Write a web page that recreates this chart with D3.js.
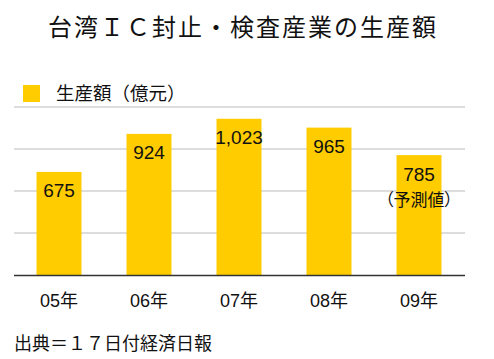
<!DOCTYPE html>
<html><head><meta charset="utf-8">
<script src="https://cdn.jsdelivr.net/npm/d3@7/dist/d3.min.js"></script>
<style>
body{margin:0;background:#fff;}
text{font-family:"Liberation Sans","Noto Sans CJK JP",sans-serif;}
.jp{font-family:"Noto Sans CJK JP",sans-serif;}
</style></head><body>
<svg id="c" width="494" height="359"></svg>
<script>
const categories = ["05年","06年","07年","08年","09年"];
const values = [675, 924, 1023, 965, 785];
const valueLabels = ["675","924","1,023","965","785"];
const notes = ["","","","","（予測値）"];
const yTicks = [0, 275, 550, 825, 1100];
const title = "台湾ＩＣ封止・検査産業の生産額";
const legendLabel = "生産額（億元）";
const source = "出典＝１７日付経済日報";

(function(){
const svg = d3.select("#c");
const pl = 14, pr = 464, pt = 107, pb = 275;
const x = d3.scaleBand().domain(categories).range([pl, pr]).paddingInner(0.5).paddingOuter(0.25);
const y = d3.scaleLinear().domain([0, 1100]).range([pb, pt]);

svg.append("text").attr("class","jp").attr("x",243).attr("y",36).attr("text-anchor","middle")
  .attr("font-size",24).attr("letter-spacing",2).attr("fill","#111").text(title);

svg.append("rect").attr("x",23).attr("y",85).attr("width",17).attr("height",17).attr("fill","#FFCC00");
svg.append("text").attr("class","jp").attr("x",56).attr("y",100).attr("font-size",18.5)
  .attr("fill","#111").text(legendLabel);

svg.append("g").selectAll("line").data(yTicks.slice(1)).join("line")
  .attr("x1",pl).attr("x2",pr+1).attr("y1",d=>y(d)).attr("y2",d=>y(d))
  .attr("stroke","#bbbbbb").attr("stroke-width",1);

svg.append("g").selectAll("rect").data(values).join("rect")
  .attr("x",(d,i)=>x(categories[i])).attr("width",x.bandwidth())
  .attr("y",d=>y(d)).attr("height",d=>y(0)-y(d)).attr("fill","#FFCC00");

svg.append("line").attr("x1",pl).attr("x2",pr+1).attr("y1",pb+0.5).attr("y2",pb+0.5)
  .attr("stroke","#333").attr("stroke-width",1.5);

svg.append("g").selectAll("text").data(values).join("text")
  .attr("x",(d,i)=>x(categories[i])+x.bandwidth()/2).attr("y",d=>y(d)+25.5)
  .attr("text-anchor","middle").attr("font-size",19).attr("fill","#111").text((d,i)=>valueLabels[i]);

svg.append("g").selectAll("text").data(values).join("text").attr("class","jp")
  .attr("x",(d,i)=>x(categories[i])+x.bandwidth()/2).attr("y",d=>y(d)+51)
  .attr("text-anchor","middle").attr("font-size",17).style("font-feature-settings","'palt'")
  .attr("fill","#111").text((d,i)=>notes[i]);

const xAxis = svg.append("g").attr("transform",`translate(0,${pb})`)
  .call(d3.axisBottom(x).tickSize(0).tickPadding(0));
xAxis.select(".domain").remove();
xAxis.selectAll("text").attr("y",31.5).attr("dy",null).attr("font-size",18)
  .attr("fill","#111").style("font-family","'Liberation Sans','Noto Sans CJK JP',sans-serif");

svg.append("text").attr("class","jp").attr("x",14).attr("y",350).attr("font-size",18)
  .attr("fill","#111").text(source);
})();
</script></body></html>
